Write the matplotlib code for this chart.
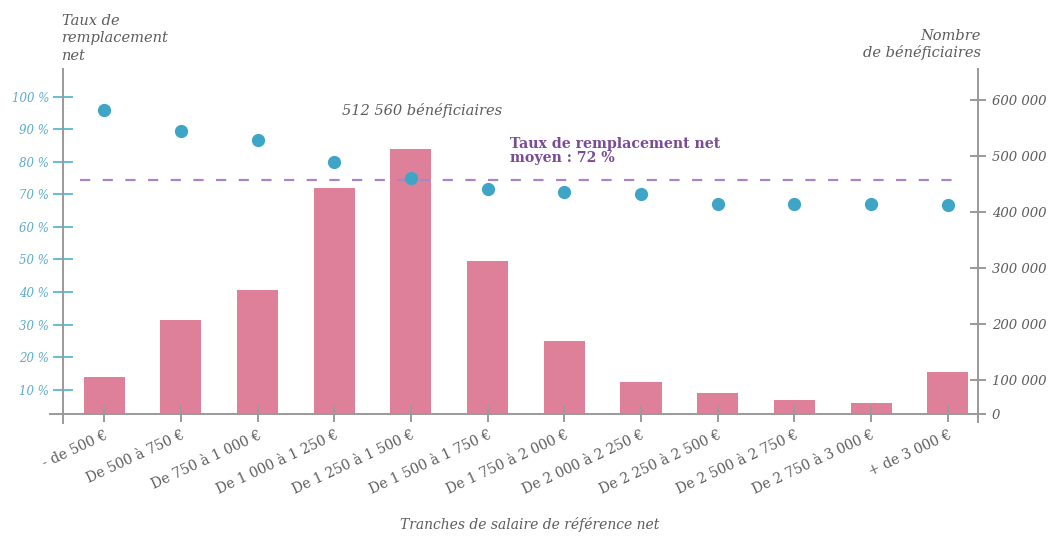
import matplotlib
matplotlib.use("Agg")
import matplotlib.pyplot as plt

# ---- data ----
categories = ["- de 500 €", "De 500 à 750 €", "De 750 à 1 000 €", "De 1 000 à 1 250 €",
              "De 1 250 à 1 500 €", "De 1 500 à 1 750 €", "De 1 750 à 2 000 €",
              "De 2 000 à 2 250 €", "De 2 250 à 2 500 €", "De 2 500 à 2 750 €",
              "De 2 750 à 3 000 €", "+ de 3 000 €"]
beneficiaires = [106400, 207700, 261300, 442900, 512560, 313000, 170200,
                 96400, 77300, 64800, 59500, 114300]
taux_remplacement = [95.9, 89.6, 86.8, 80.0, 75.1, 71.7, 70.7, 70.2, 66.9, 66.9, 67.0, 66.7]
taux_moyen_trace = 74.4
pct_ticks = [10, 20, 30, 40, 50, 60, 70, 80, 90, 100]
pct_labels = [f"{v} %" for v in pct_ticks]
count_ticks = [100000, 200000, 300000, 400000, 500000, 600000]
count_labels = [f"{v:,}".replace(",", " ") for v in count_ticks]

# ---- style ----
PINK = "#de8099"
TEAL = "#3ea5c7"
TEAL_TICK = "#66bdd6"
TEAL_LABEL = "#5aaccb"
PURPLE = "#a985c6"
PURPLE_TXT = "#7b4b97"
GRAY = "#9a9a9a"
TXT = "#5c5c5c"
SERIF = "DejaVu Serif"

W, H = 1053, 536
fig = plt.figure(figsize=(W / 100, H / 100), dpi=100)
left, right, bottom, top = 63, 977.7, 414.3, 69
ax = fig.add_axes([left / W, 1 - bottom / H, (right - left) / W, (bottom - top) / H])
ax2 = ax.twinx()
ax.set_zorder(ax2.get_zorder() + 1)
ax.patch.set_visible(False)

x = list(range(len(categories)))
ax2.bar(x, beneficiaires, width=0.535, color=PINK, zorder=2)
ax.hlines(taux_moyen_trace, -0.32, len(x) - 1 + 0.12, colors=PURPLE,
          linestyles=(0, (4.6, 5.6)), linewidth=1.6, zorder=3)
ax.plot(x, taux_remplacement, "o", ms=8.5, color=TEAL, zorder=4)

ax.set_xlim(-0.538, len(x) - 1 + 0.391)
ax.set_ylim(2.43, 108.5)
ax2.set_ylim(39300, 655900)

# spines
for a in (ax, ax2):
    a.spines["top"].set_visible(False)
ax.spines["right"].set_visible(False)
ax2.spines["left"].set_visible(False)
ax2.spines["bottom"].set_visible(False)
for sp in (ax.spines["left"], ax.spines["bottom"], ax2.spines["right"]):
    sp.set_color(GRAY)
    sp.set_linewidth(1.4)
ax.spines["left"].set_bounds(-0.2, 108.5)
ax.spines["bottom"].set_bounds(-0.71, len(x) - 1 + 0.49)
ax2.spines["right"].set_bounds(25500, 655900)

# left axis (percent)
ax.set_yticks(pct_ticks)
ax.set_yticklabels(pct_labels)
ax.tick_params(axis="y", direction="inout", length=13.7, width=1.4, color=TEAL_TICK,
               labelcolor=TEAL_LABEL, pad=3.2, labelsize=8.5)
for t in ax.get_yticklabels():
    t.set_fontfamily(SERIF)
    t.set_fontstyle("italic")

# right axis (counts)
lo = ax2.get_ylim()[0]
ax2.set_yticks([lo] + count_ticks)
ax2.set_yticklabels(["0"] + count_labels)
ax2.tick_params(axis="y", direction="inout", length=12.2, width=1.4, color=GRAY,
                labelcolor=TXT, pad=3.9, labelsize=9.5)
for t in ax2.get_yticklabels():
    t.set_fontfamily(SERIF)
    t.set_fontstyle("italic")

# x axis
ax.set_xticks(x)
ax.set_xticklabels(categories, rotation=25, ha="right", rotation_mode="anchor",
                   fontfamily=SERIF, fontsize=10, color=TXT)
ax.tick_params(axis="x", direction="inout", length=12.2, width=1.4, color=GRAY, pad=3.9)

# texts
fig.text(62 / W, 1 - 14 / H, "Taux de\nremplacement\nnet", ha="left", va="top",
         fontfamily=SERIF, fontstyle="italic", fontsize=10.5, color=TXT, linespacing=1.3)
fig.text(981 / W, 1 - 29 / H, "Nombre\nde bénéficiaires", ha="right", va="top",
         fontfamily=SERIF, fontstyle="italic", fontsize=10.5, color=TXT, linespacing=1.15)
fig.text(421.7 / W, 1 - 111 / H, f"{beneficiaires[4]:,}".replace(",", " ") + " bénéficiaires",
         ha="center", va="center", fontfamily=SERIF, fontstyle="italic", fontsize=10.5, color=TXT)
fig.text(510 / W, 1 - 137 / H, "Taux de remplacement net\nmoyen : 72 %", ha="left", va="top",
         fontfamily=SERIF, fontweight="bold", fontsize=10.2, color=PURPLE_TXT, linespacing=1.0)
fig.text(530 / W, 1 - 525 / H, "Tranches de salaire de référence net", ha="center", va="center",
         fontfamily=SERIF, fontstyle="italic", fontsize=10, color=TXT)

fig.savefig("out.png", dpi=100)
